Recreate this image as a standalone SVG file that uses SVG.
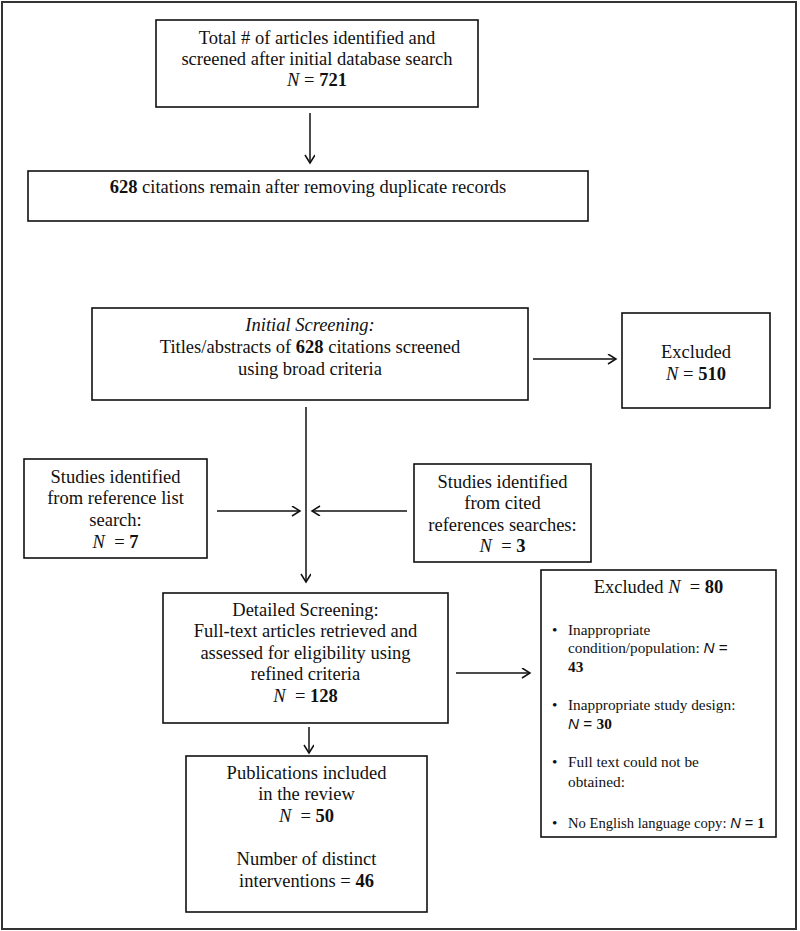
<svg xmlns="http://www.w3.org/2000/svg" width="800" height="931" viewBox="0 0 800 931">
<style>
.box{fill:#fff;stroke:#111;stroke-width:1.6}
.t{font-family:"Liberation Serif","Times New Roman",serif;font-size:18.5px;fill:#111;text-anchor:middle}
.b{font-weight:bold}
.i{font-style:italic}
.s{font-family:"Liberation Serif","Times New Roman",serif;font-size:15.3px;fill:#111}
.sn{font-family:"Liberation Sans",Arial,sans-serif;font-style:italic}
.sq{font-family:"Liberation Sans",Arial,sans-serif}
.c line{stroke:#111;stroke-width:1.5;marker-end:url(#ah)}
</style>
<defs>
<marker id="ah" markerUnits="userSpaceOnUse" markerWidth="12" markerHeight="12" refX="9" refY="5" orient="auto">
<path d="M1,0 L9,5 L1,10" fill="none" stroke="#111" stroke-width="1.5"/>
</marker>
</defs>
<rect x="0" y="0" width="800" height="931" fill="#fff"/>
<rect x="2" y="2" width="794" height="927" fill="none" stroke="#333" stroke-width="2"/>
<g class="c">
<line x1="310" y1="113" x2="310" y2="163"/>
<line x1="533" y1="359" x2="616" y2="359"/>
<line x1="306" y1="407" x2="306" y2="582"/>
<line x1="217" y1="511" x2="300" y2="511"/>
<line x1="407" y1="511" x2="312" y2="511"/>
<line x1="456" y1="673" x2="530" y2="673"/>
<line x1="309" y1="727" x2="309" y2="753"/>
</g>
<g id="n1">
<rect class="box" x="156" y="20" width="322" height="87"/>
<text class="t" x="317" y="44">Total # of articles identified and</text>
<text class="t" x="317" y="65">screened after initial database search</text>
<text class="t" x="317" y="86"><tspan class="i">N</tspan> = <tspan class="b">721</tspan></text>
</g>
<g id="n2">
<rect class="box" x="28" y="171" width="560" height="50"/>
<text class="t" x="308" y="193"><tspan class="b">628</tspan> citations remain after removing duplicate records</text>
</g>
<g id="n3">
<rect class="box" x="92" y="308" width="436" height="92"/>
<text class="t i" x="310" y="331">Initial Screening:</text>
<text class="t" x="310" y="353">Titles/abstracts of <tspan class="b">628</tspan> citations screened</text>
<text class="t" x="310" y="375">using broad criteria</text>
</g>
<g id="n4">
<rect class="box" x="622" y="313" width="148" height="95"/>
<text class="t" x="696" y="358">Excluded</text>
<text class="t" x="696" y="380"><tspan class="i">N</tspan> = <tspan class="b">510</tspan></text>
</g>
<g id="n5">
<rect class="box" x="24" y="459" width="183" height="99"/>
<text class="t" x="115.5" y="483">Studies identified</text>
<text class="t" x="115.5" y="504">from reference list</text>
<text class="t" x="115.5" y="526">search:</text>
<text class="t" x="115.5" y="548" xml:space="preserve"><tspan class="i">N</tspan>  = <tspan class="b">7</tspan></text>
</g>
<g id="n6">
<rect class="box" x="414" y="464" width="177" height="98"/>
<text class="t" x="502.5" y="488">Studies identified</text>
<text class="t" x="502.5" y="509">from cited</text>
<text class="t" x="502.5" y="531">references searches:</text>
<text class="t" x="502.5" y="552" xml:space="preserve"><tspan class="i">N</tspan>  = <tspan class="b">3</tspan></text>
</g>
<g id="n7">
<rect class="box" x="163" y="593" width="285" height="130"/>
<text class="t" x="305.5" y="616">Detailed Screening:</text>
<text class="t" x="305.5" y="637">Full-text articles retrieved and</text>
<text class="t" x="305.5" y="659">assessed for eligibility using</text>
<text class="t" x="305.5" y="680">refined criteria</text>
<text class="t" x="305.5" y="702" xml:space="preserve"><tspan class="i">N</tspan>  = <tspan class="b">128</tspan></text>
</g>
<g id="n8">
<rect class="box" x="541" y="570" width="235" height="267"/>
<text class="t" x="658.5" y="593" xml:space="preserve">Excluded <tspan class="i">N</tspan>  = <tspan class="b">80</tspan></text>
<g class="s">
<text x="552" y="635">•</text>
<text x="568" y="635">Inappropriate</text>
<text x="568" y="653">condition/population: <tspan class="sn">N</tspan><tspan class="sq"> =</tspan></text>
<text x="568" y="672" class="b">43</text>
<text x="552" y="710">•</text>
<text x="568" y="710">Inappropriate study design:</text>
<text x="568" y="729"><tspan class="sn">N</tspan><tspan class="sq"> = </tspan><tspan class="b">30</tspan></text>
<text x="552" y="767">•</text>
<text x="568" y="767">Full text could not be</text>
<text x="568" y="787">obtained:</text>
<text x="552" y="828">•</text>
<text x="568" y="828" font-size="14.6">No English language copy: <tspan class="sn">N</tspan><tspan class="sq"> = </tspan><tspan class="b">1</tspan></text>
</g>
</g>
<g id="n9">
<rect class="box" x="186" y="756" width="241" height="156"/>
<text class="t" x="306.5" y="779">Publications included</text>
<text class="t" x="306.5" y="800">in the review</text>
<text class="t" x="306.5" y="822" xml:space="preserve"><tspan class="i">N</tspan>  = <tspan class="b">50</tspan></text>
<text class="t" x="306.5" y="865">Number of distinct</text>
<text class="t" x="306.5" y="887">interventions = <tspan class="b">46</tspan></text>
</g>
</svg>
